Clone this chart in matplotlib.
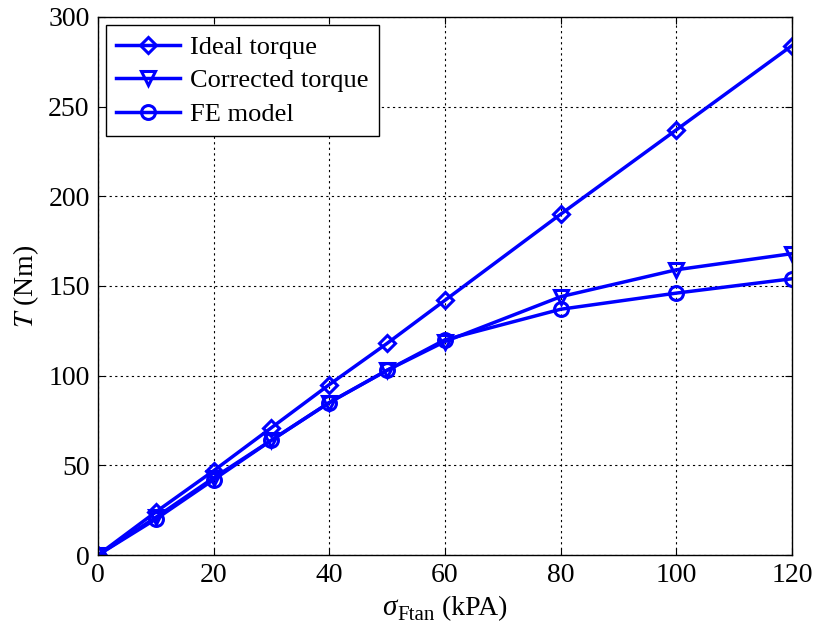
import matplotlib
matplotlib.use("Agg")
import matplotlib.pyplot as plt

plt.rcParams['font.family'] = ['Liberation Serif', 'DejaVu Serif']
plt.rcParams['mathtext.fontset'] = 'stix'

# Shear stress (kPa) and torque (Nm)
sigma = [0, 10, 20, 30, 40, 50, 60, 80, 100, 120]
ideal_torque = [0, 24, 47, 71, 95, 118, 142, 190, 237, 284]
corrected_torque = [0, 21, 43, 64, 85, 103, 119, 144, 159, 168]
fe_model = [0, 20, 42, 64, 85, 103, 120, 137, 146, 154]

x_ticks = [0, 20, 40, 60, 80, 100, 120]
y_ticks = [0, 50, 100, 150, 200, 250, 300]

fig = plt.figure(figsize=(8.15, 6.28), dpi=100)
ax = fig.add_axes([0.1202, 0.1162, 0.8516, 0.857])

style = dict(color='#0000ff', lw=2.5, mew=2.2, mfc='none')
ax.plot(sigma, ideal_torque, marker='D', ms=8, label='Ideal torque', **style)
ax.plot(sigma, corrected_torque, marker='v', ms=10, label='Corrected torque', **style)
ax.plot(sigma, fe_model, marker='o', ms=10, label='FE model', **style)

ax.set_xlim(0, 120)
ax.set_ylim(0, 300)
ax.set_xticks(x_ticks)
ax.set_yticks(y_ticks)
ax.tick_params(direction='in', top=True, right=True, labelsize=20, length=5, pad=6)
ax.grid(True, color='black', linestyle=(0, (2, 3)), linewidth=0.8)
for s in ax.spines.values():
    s.set_linewidth(1.0)

ax.set_ylabel(r'$T$ (Nm)', fontsize=20, labelpad=5)

leg = ax.legend(loc='upper left', fontsize=19, fancybox=False, framealpha=1,
                edgecolor='black', handlelength=2.4, borderpad=0.4,
                labelspacing=0.38, handletextpad=0.4, borderaxespad=0.3)
leg.get_frame().set_linewidth(1.0)

# x-axis label built from pieces: italic sigma, subscript "Ftan", unit
fig.canvas.draw()
renderer = fig.canvas.get_renderer()
W, H = fig.bbox.width, fig.bbox.height
base_y = 1 - 615 / H
parts = [
    dict(s='σ', size=21, style='italic', dy=0),
    dict(s='Ftan', size=15, style='normal', dy=-5),
    dict(s=' (kPA)', size=20, style='normal', dy=0),
]
texts = []
for p in parts:
    t = fig.text(0, base_y + p['dy'] / H, p['s'], fontsize=p['size'],
                 fontstyle=p['style'], va='baseline', ha='left')
    texts.append(t)
widths = [t.get_window_extent(renderer).width for t in texts]
total = sum(widths) + 1
ax_bb = ax.get_window_extent(renderer)
x = (ax_bb.x0 + ax_bb.x1) / 2 - total / 2
for t, w in zip(texts, widths):
    t.set_x(x / W)
    x += w + (1 if t is texts[0] else 0)

fig.savefig('out.png', dpi=100)
